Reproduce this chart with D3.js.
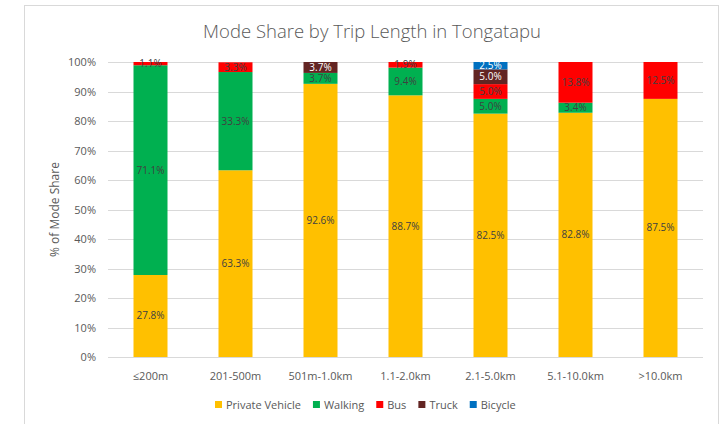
<!DOCTYPE html>
<html>
<head>
<meta charset="utf-8">
<script src="https://cdn.jsdelivr.net/npm/d3@7"></script>
<style>
body { margin: 0; background: #fff; }
svg text { font-family: "Open Sans", "Liberation Sans", sans-serif; }
</style>
</head>
<body>
<div class="chart-wrapper"></div>
<script>
const categories = ['≤200m', '201-500m', '501m-1.0km', '1.1-2.0km', '2.1-5.0km', '5.1-10.0km', '>10.0km'];
const modes = ['Private Vehicle', 'Walking', 'Bus', 'Truck', 'Bicycle'];
const privateVehicle = [27.8, 63.3, 92.6, 88.7, 82.5, 82.8, 87.5];
const walking = [71.1, 33.3, 3.7, 9.4, 5.0, 3.4, 0];
const bus = [1.1, 3.3, 0, 1.9, 5.0, 13.8, 12.5];
const truck = [0, 0, 3.7, 0, 5.0, 0, 0];
const bicycle = [0, 0, 0, 0, 2.5, 0, 0];
const yTicks = [0, 10, 20, 30, 40, 50, 60, 70, 80, 90, 100];

const colors = ['#FFC000', '#00B050', '#FF0000', '#632523', '#0070C0'];
const labelColors = ['#404040', '#404040', '#404040', '#ffffff', '#ffffff'];

const seriesValues = [privateVehicle, walking, bus, truck, bicycle];

const width = 726, height = 424;
const margin = {top: 62, right: 23, bottom: 67, left: 108};

let svg = d3.select('.chart-wrapper').append('svg')
.attr('width', width)
.attr('height', height)

// frame
svg.append('rect')
.attr('x', 24.5).attr('y', 5.5)
.attr('width', 694).attr('height', 430)
.attr('fill', 'none')
.attr('stroke', '#d9d9d9')

let x = d3.scaleBand()
.domain(categories)
.range([margin.left, width - margin.right])
.paddingInner(0.6)
.paddingOuter(0.3)

let y = d3.scaleLinear()
.domain([0, 100])
.range([height - margin.bottom, margin.top])

// gridlines
svg.append('g')
.selectAll('line')
.data(yTicks)
.enter()
.append('line')
.attr('x1', margin.left)
.attr('x2', width - margin.right)
.attr('y1', d => Math.round(y(d)) + 0.5)
.attr('y2', d => Math.round(y(d)) + 0.5)
.attr('stroke', '#d9d9d9')

// y tick labels
svg.append('g')
.selectAll('text')
.data(yTicks)
.enter()
.append('text')
.attr('x', 96)
.attr('y', d => y(d) + 4)
.attr('text-anchor', 'end')
.attr('font-size', 11)
.attr('fill', '#595959')
.text(d => d + '%')

// stacked data
let rows = categories.map((c, i) => {
	let r = {category: c};
	modes.forEach((m, j) => r[m] = seriesValues[j][i]);
	return r;
})

let stack = d3.stack().keys(modes)(rows)

let bars = svg.append('g')

stack.forEach((layer, j) => {
	bars.append('g')
	.attr('fill', colors[j])
	.selectAll('rect')
	.data(layer.filter(d => d[1] - d[0] > 0))
	.enter()
	.append('rect')
	.attr('x', d => x(d.data.category))
	.attr('y', d => y(Math.min(d[1], 100)))
	.attr('width', x.bandwidth())
	.attr('height', d => y(d[0]) - y(Math.min(d[1], 100)))
})

// data labels
stack.forEach((layer, j) => {
	bars.append('g')
	.selectAll('text')
	.data(layer.filter(d => d[1] - d[0] > 0))
	.enter()
	.append('text')
	.attr('x', d => x(d.data.category) + x.bandwidth() / 2)
	.attr('y', d => y((d[0] + Math.min(d[1], 100)) / 2) + 3.5)
	.attr('text-anchor', 'middle')
	.attr('font-size', 10)
	.attr('fill', labelColors[j])
	.text(d => (d[1] - d[0]).toFixed(1) + '%')
})

// x axis line
svg.append('line')
.attr('x1', margin.left)
.attr('x2', width - margin.right)
.attr('y1', Math.round(y(0)) + 0.5)
.attr('y2', Math.round(y(0)) + 0.5)
.attr('stroke', '#d9d9d9')

// x labels
svg.append('g')
.selectAll('text')
.data(categories)
.enter()
.append('text')
.attr('x', d => x(d) + x.bandwidth() / 2)
.attr('y', 380)
.attr('text-anchor', 'middle')
.attr('font-size', 11)
.attr('fill', '#595959')
.text(d => d)

// title
svg.append('text')
.attr('x', 372)
.attr('y', 38)
.attr('text-anchor', 'middle')
.attr('font-size', 18.5)
.attr('font-weight', 300)
.attr('fill', '#595959')
.text('Mode Share by Trip Length in Tongatapu')

// y axis title
svg.append('text')
.attr('transform', 'translate(59,' + (y(50)) + ') rotate(-90)')
.attr('text-anchor', 'middle')
.attr('font-size', 12)
.attr('fill', '#595959')
.text('% of Mode Share')

// legend
let legend = svg.append('g')
let lx = 215;
modes.forEach((m, j) => {
	let item = legend.append('g').attr('transform', 'translate(' + lx + ',405)')
	item.append('rect')
	.attr('x', 0).attr('y', -4)
	.attr('width', 7).attr('height', 7)
	.attr('fill', colors[j])
	let t = item.append('text')
	.attr('x', 11)
	.attr('y', 4)
	.attr('font-size', 11)
	.attr('fill', '#595959')
	.text(m)
	lx += 11 + t.node().getComputedTextLength() + 12;
})
</script>
</body>
</html>
